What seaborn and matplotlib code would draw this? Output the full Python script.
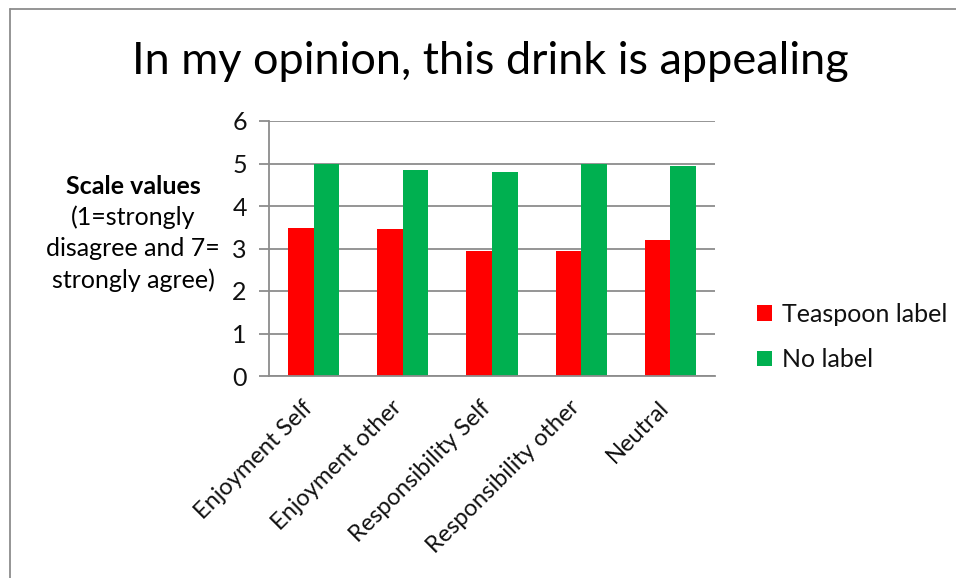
import matplotlib
matplotlib.use("Agg")
import matplotlib.pyplot as plt
import matplotlib.transforms as mtransforms
import seaborn as sns
import pandas as pd
from matplotlib.lines import Line2D

categories = ["Enjoyment Self", "Enjoyment other", "Responsibility Self",
              "Responsibility other", "Neutral"]
series_names = ["Teaspoon label", "No label"]
teaspoon = [3.48, 3.45, 2.95, 2.95, 3.20]
no_label = [4.99, 4.85, 4.79, 4.99, 4.93]
y_ticks = [0, 1, 2, 3, 4, 5, 6]
colors = ["#FF0000", "#00B050"]

df = pd.DataFrame({
    "category": categories * 2,
    "series": [series_names[0]] * len(categories) + [series_names[1]] * len(categories),
    "value": teaspoon + no_label,
})

sns.set_theme(style="white")
plt.rcParams["font.family"] = ["Lato", "DejaVu Sans"]

fig = plt.figure(figsize=(9.56, 5.78), dpi=100)
ax = fig.add_axes([269 / 956, 1 - 376 / 578, (715 - 269) / 956, (376 - 121) / 578])

sns.barplot(data=df, x="category", y="value", hue="series", order=categories,
            hue_order=series_names, palette=colors, width=0.575, ax=ax,
            saturation=1, edgecolor="none", linewidth=0)

grid_c = "#8c8c8c"
txt_c = "#111111"
ax.set_ylim(0, 6)
ax.set_xlim(-0.5, len(categories) - 0.5)
ax.set_yticks(y_ticks)
ax.set_yticklabels([str(t) for t in y_ticks], fontsize=18, color=txt_c)
ax.yaxis.grid(True, color=grid_c, linewidth=1.3)
ax.set_axisbelow(True)
for s in ["top", "right"]:
    ax.spines[s].set_visible(False)
for s in ["left", "bottom"]:
    ax.spines[s].set_color(grid_c)
    ax.spines[s].set_linewidth(1.3)

ax.set_xticks(range(len(categories)))
ax.set_xticklabels(categories, rotation=45, ha="right", rotation_mode="anchor",
                   fontsize=17, color=txt_c)
ax.set_xticks([i - 0.5 for i in range(len(categories) + 1)], minor=True)
ax.tick_params(axis="x", which="major", length=0, pad=15)
ax.tick_params(axis="x", which="minor", length=7, width=1.3, color=grid_c, direction="out")
ax.tick_params(axis="y", which="major", length=7, width=1.3, color=grid_c, direction="out",
               left=True, pad=9)
shift = mtransforms.ScaledTranslation(-12 / 100, 0, fig.dpi_scale_trans)
for lab in ax.get_xticklabels():
    lab.set_transform(lab.get_transform() + shift)
ax.set_xlabel("")
ax.set_ylabel("")

fig.text(490 / 956, 1 - 62 / 578, "In my opinion, this drink is appealing",
         ha="center", va="center", fontsize=32.5, color="black")

fig.text(133 / 956, 1 - 186 / 578, "Scale values", ha="center", va="center",
         fontsize=18, fontweight="bold", color="black")
fig.text(133 / 956, 1 - 249 / 578, "(1=strongly\ndisagree and 7=\nstrongly agree)",
         ha="center", va="center", fontsize=18, color="black", linespacing=1.42)

handles, labels = ax.get_legend_handles_labels()
leg = ax.legend(handles, labels, loc="center left",
                bbox_to_anchor=(757 / 956, 1 - 337 / 578), bbox_transform=fig.transFigure,
                frameon=False, fontsize=18, handlelength=0.6, handleheight=0.6,
                handletextpad=0.4, labelspacing=0.9, borderaxespad=0, borderpad=0)
for t in leg.get_texts():
    t.set_color(txt_c)

fig.add_artist(Line2D([10 / 956, 10 / 956], [0, 1 - 9 / 578], transform=fig.transFigure,
                      color="#8c8c8c", linewidth=1.3))
fig.add_artist(Line2D([10 / 956, 1], [1 - 9 / 578, 1 - 9 / 578], transform=fig.transFigure,
                      color="#8c8c8c", linewidth=1.3))

fig.savefig("out.png", dpi=100)
